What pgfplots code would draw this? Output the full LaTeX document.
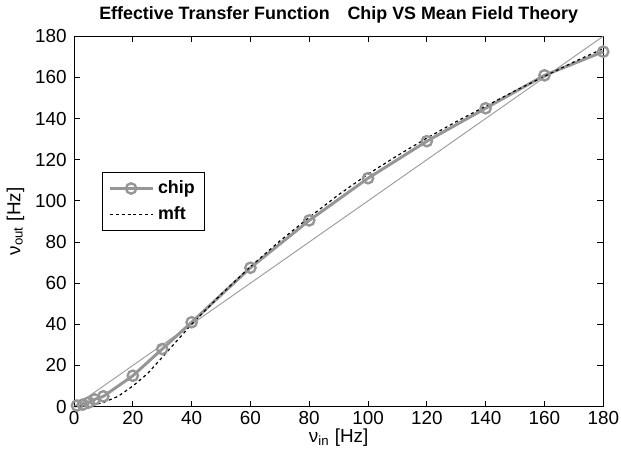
\documentclass[border=0pt]{standalone}
\usepackage{pgfplots}
\pgfplotsset{compat=1.18}
\usepackage{fontspec}
\setmainfont{Liberation Sans}
\definecolor{chipgray}{RGB}{150,150,150}
\definecolor{diaggray}{RGB}{160,160,160}
\begin{document}
\begin{tikzpicture}
\begin{axis}[
  scale only axis,
  width=266.5pt, height=186.5pt,
  xmin=0, xmax=180, ymin=0, ymax=180,
  xtick={0,20,...,180}, ytick={0,20,...,180},
  tick align=inside,
  tick pos=both,
  major tick length=3pt,
  axis line style={black, line width=0.5pt},
  every tick/.style={black, line width=0.4pt},
  tick label style={font=\fontsize{9.5}{11}\selectfont, inner xsep=1pt},
  yticklabel style={xshift=-2.5pt},
  xticklabel style={yshift=1pt},
  /pgf/number format/assume math mode=true,
  title={\bfseries Effective Transfer Function\quad Chip VS Mean Field Theory},
  title style={font=\fontsize{9}{11}\selectfont, yshift=-3pt},
  xlabel={ν\textsubscript{in} [Hz]},
  ylabel={ν\textsubscript{out} [Hz]},
  label style={font=\fontsize{9.5}{11}\selectfont},
  xlabel style={yshift=5pt},
  ylabel style={yshift=1pt},
  legend style={at={(0.0525,0.633)}, anchor=north west, draw=black, line width=0.4pt,
    font=\bfseries\fontsize{9}{11}\selectfont, row sep=1pt, inner xsep=3pt, inner ysep=2pt},
  legend image code/.code={\draw[mark repeat=2,mark phase=2] plot coordinates {(0cm,0cm) (0.38cm,0cm) (0.76cm,0cm)};},
  legend cell align=left,
  clip=false,
]
\addplot[diaggray, line width=0.5pt, forget plot] coordinates {(0,0) (180,180)};
\addplot[chipgray, line width=1.5pt, mark=o, mark size=2.6pt, mark options={line width=1.2pt}] coordinates {
(1,0.5) (3,1) (5,2) (7,3.5) (10,5) (20,15) (30,28) (40,41) (60,67.5) (80,90.5) (100,111) (120,129) (140,145) (160,161) (180,172.5)};
\addlegendentry{chip}
\addplot[black, line width=0.6pt, dash pattern=on 1.5pt off 1.5pt] coordinates {
(0,0) (5,0.4) (10,2) (15,5) (20,10) (25,16) (30,24) (35,32) (40,40) (50,54.5) (60,68) (70,80.5) (80,92) (90,103) (100,113) (110,122) (120,130.5) (130,138.5) (140,146) (150,153.5) (160,160.5) (170,167.5) (180,174)};
\addlegendentry{mft}
\end{axis}
\end{tikzpicture}
\end{document}
